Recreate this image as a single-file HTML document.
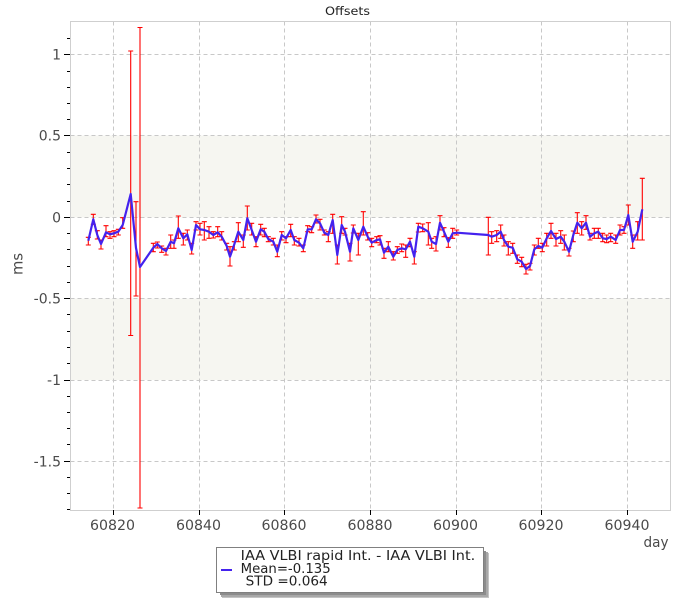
<!DOCTYPE html>
<html>
<head>
<meta charset="utf-8">
<style>
  html, body { margin:0; padding:0; background:#fff; }
  body { width:700px; height:600px; overflow:hidden; }
  svg { display:block; font-family: "DejaVu Sans", "Liberation Sans", sans-serif; }
</style>
</head>
<body>
<svg width="700" height="600" viewBox="0 0 700 600" xmlns="http://www.w3.org/2000/svg">
  <rect x="0" y="0" width="700" height="600" fill="#ffffff"/>

  <!-- bands -->
  <rect x="70.5" y="135.5" width="600" height="81.8" fill="#f6f6f1"/>
  <rect x="70.5" y="298.5" width="600" height="81.5" fill="#f6f6f1"/>

  <!-- grid -->
  <g stroke="#c8c8c8" stroke-width="1" stroke-dasharray="4,3" shape-rendering="crispEdges" fill="none">
    <path d="M113.5 21.5V510M199.5 21.5V510M284.5 21.5V510M370.5 21.5V510M456.5 21.5V510M541.5 21.5V510M627.5 21.5V510"/>
    <path d="M70.5 54.5H670M70.5 135.5H670M70.5 217.5H670M70.5 298.5H670M70.5 380.5H670M70.5 461.5H670"/>
  </g>

  <!-- frame -->
  <rect x="70.5" y="21.5" width="600" height="489" fill="none" stroke="#cfcfcf" stroke-width="1" shape-rendering="crispEdges"/>

  <!-- y ticks -->
  <g stroke="#000" stroke-width="1" shape-rendering="crispEdges">
    <path d="M67 38.5H70M67 71.5H70M67 87.5H70M67 103.5H70M67 119.5H70M67 152.5H70M67 168.5H70M67 184.5H70M67 201.5H70M67 233.5H70M67 249.5H70M67 266.5H70M67 282.5H70M67 314.5H70M67 331.5H70M67 347.5H70M67 363.5H70M67 396.5H70M67 412.5H70M67 428.5H70M67 444.5H70M67 477.5H70M67 493.5H70M67 509.5H70"/>
    <path d="M64 54.5H70M64 135.5H70M64 217.5H70M64 298.5H70M64 380.5H70M64 461.5H70"/>
    <path d="M113.5 510V515M199.5 510V515M284.5 510V515M370.5 510V515M456.5 510V515M541.5 510V515M627.5 510V515"/>
  </g>

  <!-- y labels -->
  <g fill="#4a4a4a" font-size="14" text-anchor="end">
    <text x="61" y="59.5">1</text>
    <text x="61" y="140.5">0.5</text>
    <text x="61" y="222.3">0</text>
    <text x="61" y="303.5">-0.5</text>
    <text x="61" y="385">-1</text>
    <text x="61" y="466.3">-1.5</text>
  </g>

  <!-- x labels -->
  <g fill="#4a4a4a" font-size="14" text-anchor="middle">
    <text x="112.5" y="530" textLength="45" lengthAdjust="spacingAndGlyphs">60820</text>
    <text x="198.5" y="530" textLength="45" lengthAdjust="spacingAndGlyphs">60840</text>
    <text x="284" y="530" textLength="45" lengthAdjust="spacingAndGlyphs">60860</text>
    <text x="370" y="530" textLength="45" lengthAdjust="spacingAndGlyphs">60880</text>
    <text x="455.5" y="530" textLength="45" lengthAdjust="spacingAndGlyphs">60900</text>
    <text x="541" y="530" textLength="45" lengthAdjust="spacingAndGlyphs">60920</text>
    <text x="627" y="530" textLength="45" lengthAdjust="spacingAndGlyphs">60940</text>
  </g>

  <!-- axis titles -->
  <text x="643.5" y="547" fill="#4a4a4a" font-size="14" textLength="25" lengthAdjust="spacingAndGlyphs">day</text>
  <text transform="translate(22.5,264) rotate(-90)" fill="#4a4a4a" font-size="15" text-anchor="middle" textLength="22" lengthAdjust="spacingAndGlyphs">ms</text>
  <text x="325" y="15" fill="#222" font-size="11.5" textLength="45" lengthAdjust="spacingAndGlyphs">Offsets</text>

  <!-- error bars -->
  <path fill="none" stroke="#ff0000" stroke-width="1.1" d="M88.3 237.3V245M85.8 237.3h5M85.8 245h5M93.3 214.3V224.3M90.8 214.3h5M90.8 224.3h5M97.3 230.7V239M94.8 230.7h5M94.8 239h5M101 240V249M98.5 240h5M98.5 249h5M106 225.7V236.7M103.5 225.7h5M103.5 236.7h5M110 231.7V238.3M107.5 231.7h5M107.5 238.3h5M114 230.7V236.7M111.5 230.7h5M111.5 236.7h5M118.3 229.3V235M115.8 229.3h5M115.8 235h5M122.7 217.7V228.3M120.2 217.7h5M120.2 228.3h5M130.7 51V335.5M128.2 51h5M128.2 335.5h5M136 201.7V296M133.5 201.7h5M133.5 296h5M140 27.5V508M137.5 27.5h5M137.5 508h5M153.3 243.3V251.7M150.8 243.3h5M150.8 251.7h5M157.3 242V248M154.8 242h5M154.8 248h5M161.7 246V252.3M159.2 246h5M159.2 252.3h5M166 248.3V255M163.5 248.3h5M163.5 255h5M170.7 235V248.3M168.2 235h5M168.2 248.3h5M174 240V248.3M171.5 240h5M171.5 248.3h5M178.3 216V238.3M175.8 216h5M175.8 238.3h5M183.3 233.3V245M180.8 233.3h5M180.8 245h5M187.3 230V240M184.8 230h5M184.8 240h5M191.7 243.3V254M189.2 243.3h5M189.2 254h5M196 221.7V230M193.5 221.7h5M193.5 230h5M200 223.3V235M197.5 223.3h5M197.5 235h5M204.3 221.7V240M201.8 221.7h5M201.8 240h5M209 226.7V238.3M206.5 226.7h5M206.5 238.3h5M213.3 231.7V238M210.8 231.7h5M210.8 238h5M217.7 226.7V236.7M215.2 226.7h5M215.2 236.7h5M221.7 231.7V240M219.2 231.7h5M219.2 240h5M226.7 243.3V250M224.2 243.3h5M224.2 250h5M230 246.7V266M227.5 246.7h5M227.5 266h5M234.3 241.7V250M231.8 241.7h5M231.8 250h5M238.3 222.7V241.7M235.8 222.7h5M235.8 241.7h5M243.3 235V247.3M240.8 235h5M240.8 247.3h5M247.3 206V230M244.8 206h5M244.8 230h5M251.7 223.3V235M249.2 223.3h5M249.2 235h5M256 236.7V246.7M253.5 236.7h5M253.5 246.7h5M260.7 224.3V235M258.2 224.3h5M258.2 235h5M264.3 228.3V236.7M261.8 228.3h5M261.8 236.7h5M268.3 236.7V241.7M265.8 236.7h5M265.8 241.7h5M273.3 238.3V245M270.8 238.3h5M270.8 245h5M277.3 245V256.7M274.8 245h5M274.8 256.7h5M281.7 231.7V240M279.2 231.7h5M279.2 240h5M286 236.7V242.7M283.5 236.7h5M283.5 242.7h5M290.7 224.3V236.7M288.2 224.3h5M288.2 236.7h5M294.3 236.7V245M291.8 236.7h5M291.8 245h5M299 238.3V246M296.5 238.3h5M296.5 246h5M303.3 245V251.7M300.8 245h5M300.8 251.7h5M307.7 225.7V231.7M305.2 225.7h5M305.2 231.7h5M311.7 226.7V232.7M309.2 226.7h5M309.2 232.7h5M316 215V223M313.5 215h5M313.5 223h5M320 219.3V230M317.5 219.3h5M317.5 230h5M324.3 230V235M321.8 230h5M321.8 235h5M328.3 231.7V241.7M325.8 231.7h5M325.8 241.7h5M332.7 214.3V233.3M330.2 214.3h5M330.2 233.3h5M337.3 245V264M334.8 245h5M334.8 264h5M341.7 216.7V233.3M339.2 216.7h5M339.2 233.3h5M345 228.3V235M342.5 228.3h5M342.5 235h5M350 243.3V261M347.5 243.3h5M347.5 261h5M353.3 225V233M350.8 225h5M350.8 233h5M358.3 233.3V255M355.8 233.3h5M355.8 255h5M363.3 211.7V235M360.8 211.7h5M360.8 235h5M367.7 232.7V240M365.2 232.7h5M365.2 240h5M371.7 238.3V246.7M369.2 238.3h5M369.2 246.7h5M376.7 236.7V242.7M374.2 236.7h5M374.2 242.7h5M380 235.7V245M377.5 235.7h5M377.5 245h5M384 248.3V258.3M381.5 248.3h5M381.5 258.3h5M388.3 241.7V251.7M385.8 241.7h5M385.8 251.7h5M393.3 251.7V260M390.8 251.7h5M390.8 260h5M397.3 246.7V253.3M394.8 246.7h5M394.8 253.3h5M401.7 244V251.7M399.2 244h5M399.2 251.7h5M405.7 245V257.3M403.2 245h5M403.2 257.3h5M410 238.3V246.7M407.5 238.3h5M407.5 246.7h5M414.3 251.7V264M411.8 251.7h5M411.8 264h5M418.3 223.3V232M415.8 223.3h5M415.8 232h5M422.7 224V231.7M420.2 224h5M420.2 231.7h5M428.3 222.7V245M425.8 222.7h5M425.8 245h5M431.7 238.3V248.3M429.2 238.3h5M429.2 248.3h5M436 236.7V251M433.5 236.7h5M433.5 251h5M440 215.7V230M437.5 215.7h5M437.5 230h5M444 227.7V236.7M441.5 227.7h5M441.5 236.7h5M448.3 237.7V247.3M445.8 237.7h5M445.8 247.3h5M452.7 228.3V238.3M450.2 228.3h5M450.2 238.3h5M456.7 230V235M454.2 230h5M454.2 235h5M488.3 217.3V255M485.8 217.3h5M485.8 255h5M491.7 231.7V243.3M489.2 231.7h5M489.2 243.3h5M496.7 230.7V241.7M494.2 230.7h5M494.2 241.7h5M500.7 225V238.3M498.2 225h5M498.2 238.3h5M504 235V246M501.5 235h5M501.5 246h5M508.3 241.7V255M505.8 241.7h5M505.8 255h5M512.7 243.3V253.3M510.2 243.3h5M510.2 253.3h5M517.3 255V263.3M514.8 255h5M514.8 263.3h5M521.7 257.3V266.7M519.2 257.3h5M519.2 266.7h5M526 264.3V274M523.5 264.3h5M523.5 274h5M530 263.3V270M527.5 263.3h5M527.5 270h5M534.3 245V255M531.8 245h5M531.8 255h5M538.3 238.3V248.3M535.8 238.3h5M535.8 248.3h5M542.3 243.3V251.7M539.8 243.3h5M539.8 251.7h5M546.7 233.3V246M544.2 233.3h5M544.2 246h5M551 223.3V238.3M548.5 223.3h5M548.5 238.3h5M556 233.3V246M553.5 233.3h5M553.5 246h5M560.7 230.7V243.3M558.2 230.7h5M558.2 243.3h5M564.3 235V250M561.8 235h5M561.8 250h5M569 248.3V256M566.5 248.3h5M566.5 256h5M573.3 231V241.7M570.8 231h5M570.8 241.7h5M577.3 212.7V233.3M574.8 212.7h5M574.8 233.3h5M581.7 221.7V235M579.2 221.7h5M579.2 235h5M586 215.7V229.3M583.5 215.7h5M583.5 229.3h5M590 233.3V240M587.5 233.3h5M587.5 240h5M594.3 228.3V238.3M591.8 228.3h5M591.8 238.3h5M598.3 228.3V238.3M595.8 228.3h5M595.8 238.3h5M602.7 233.3V241.7M600.2 233.3h5M600.2 241.7h5M606.7 235V242.7M604.2 235h5M604.2 242.7h5M610.7 233.3V241.7M608.2 233.3h5M608.2 241.7h5M615.7 235V243.3M613.2 235h5M613.2 243.3h5M620 225V235M617.5 225h5M617.5 235h5M624 226.7V233.3M621.5 226.7h5M621.5 233.3h5M628.3 205V225M625.8 205h5M625.8 225h5M632.7 235V248.3M630.2 235h5M630.2 248.3h5M637.7 221.7V240M635.2 221.7h5M635.2 240h5M642.3 178.3V240M639.8 178.3h5M639.8 240h5"/>

  <!-- series line -->
  <polyline fill="none" stroke="#4422ee" stroke-width="2.2" stroke-linejoin="round" points="88.3,240.7 93.3,219.3 97.3,235 101,244 106,232.3 110,234.3 114,233.3 118.3,231.7 122.7,225 130.7,194 136,248 140,267 153.3,247.7 157.3,244 161.7,248.3 166,251 170.7,241.7 174,243.3 178.3,228.3 183.3,238.3 187.3,234.3 191.7,250 196,225 200,229.3 204.3,230 209,231.7 213.3,235 217.7,232.3 221.7,236.7 226.7,246 230,256.7 234.3,244.3 238.3,231.7 243.3,240 247.3,218.3 251.7,230 256,241.7 260.7,229.3 264.3,231.7 268.3,239 273.3,241.7 277.3,251.7 281.7,235 286,238.3 290.7,230 294.3,240 299,242.7 303.3,248.3 307.7,229.3 311.7,229.3 316,219.3 320,223.3 324.3,232.7 328.3,235 332.7,220 337.3,255 341.7,225 345,231.7 350,251.7 353.3,228.3 358.3,240 363.3,226.7 367.7,236.7 371.7,242.7 376.7,240 380,239.3 384,252.7 388.3,246.7 393.3,256.7 397.3,250 401.7,248.3 405.7,249.3 410,241.7 414.3,256.7 418.3,226.7 422.7,228.3 428.3,231.7 431.7,241.7 436,244 440,222.7 444,231.7 448.3,241.7 452.7,233.3 456.7,232.7 488.3,235 491.7,236.7 496.7,235 500.7,231.7 504,240 508.3,246.7 512.7,247.7 517.3,259.3 521.7,261.7 526,269 530,266 534.3,249.3 538.3,246 542.3,247.7 546.7,238.3 551,231 556,239 560.7,236.7 564.3,241.7 569,251.7 573.3,235 577.3,222.7 581.7,228.3 586,222.7 590,236.7 594.3,233.3 598.3,231.7 602.7,238.3 606.7,239 610.7,236.7 615.7,240 620,230 624,230 628.3,215 632.7,241.7 637.7,231.7 642.3,209.3"/>

  <!-- legend -->
  <rect x="222" y="553" width="267" height="45" fill="#c4c4c4"/>
  <rect x="221" y="552" width="267" height="45" fill="#a8a8a8"/>
  <rect x="220" y="551" width="266" height="44" fill="#8c8c8c"/>
  <rect x="216.5" y="547.5" width="267" height="45" fill="#ffffff" stroke="#808080" stroke-width="1" shape-rendering="crispEdges"/>
  <line x1="221" y1="570" x2="232" y2="570" stroke="#4422ee" stroke-width="2"/>
  <g fill="#222" font-size="13">
    <text x="240.7" y="560" textLength="234.5" lengthAdjust="spacingAndGlyphs">IAA VLBI rapid Int. - IAA VLBI Int.</text>
    <text x="240.7" y="573" textLength="90" lengthAdjust="spacingAndGlyphs">Mean=-0.135</text>
    <text x="245.7" y="585.5" textLength="82" lengthAdjust="spacingAndGlyphs">STD =0.064</text>
  </g>
</svg>
</body>
</html>
